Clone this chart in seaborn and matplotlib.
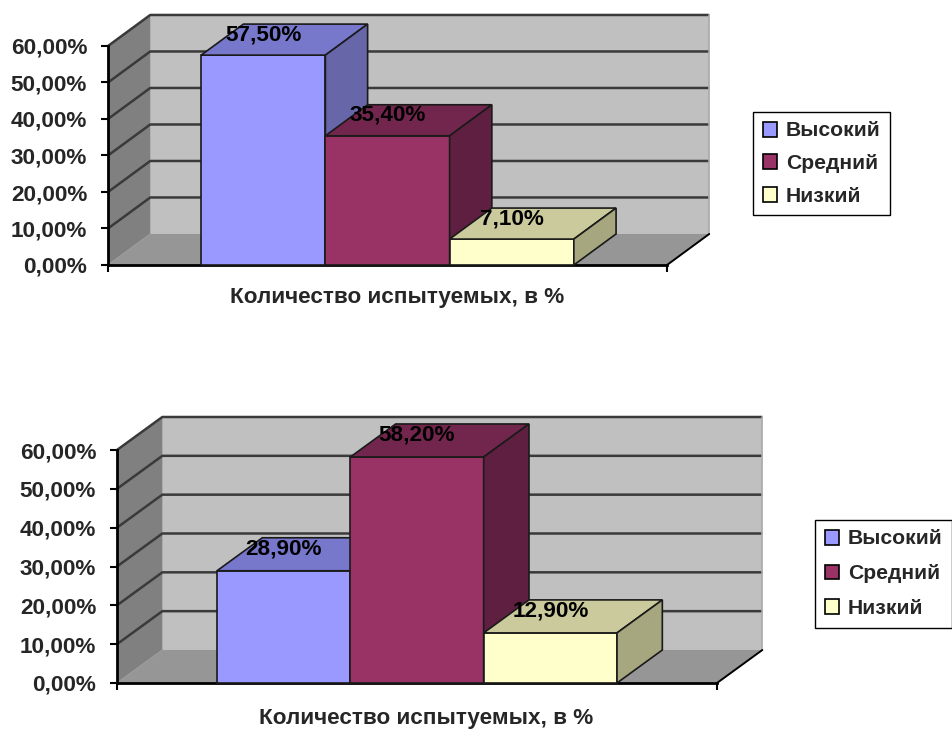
import matplotlib
matplotlib.use("Agg")
import matplotlib.pyplot as plt
from matplotlib.patches import Polygon, Patch
import seaborn as sns
import pandas as pd

# ---- data ----
categories = ["Высокий", "Средний", "Низкий"]
values_top = [57.5, 35.4, 7.1]
values_bottom = [28.9, 58.2, 12.9]
yticks = [0, 10, 20, 30, 40, 50, 60]
axis_title = "Количество испытуемых, в %"

front_colors = ["#9999FF", "#993366", "#FFFFCC"]
top_colors = ["#7777CC", "#73264D", "#CACA9C"]
side_colors = ["#6666A8", "#5E1F40", "#A6A67F"]

sns.set_style("white")
plt.rcParams["font.family"] = ["Liberation Sans", "DejaVu Sans"]
plt.rcParams["font.weight"] = "bold"

W, H = 952, 729
fig = plt.figure(figsize=(W / 100, H / 100), dpi=100)

X0, X1 = -1.25, 3.25      # category-axis extent
DX, DY = 0.34, 8.5        # 3-D depth offset (x units, % units)
YMAX = 60
FS = 16.2                 # main text size
FS_LEG = 15.2             # legend text size


def fmt(v):
    return f"{v:.2f}".replace(".", ",") + "%"


def make_panel(vals, px_x0, px_x1, px_y0, px_y60, xlim, ylim, legend_xy, title_xy, leg_spacing):
    ppx = (px_x1 - px_x0) / (X1 - X0)
    ppy = (px_y0 - px_y60) / YMAX
    left = px_x0 + (xlim[0] - X0) * ppx
    right = px_x0 + (xlim[1] - X0) * ppx
    bottom = px_y0 - ylim[0] * ppy
    top = px_y0 - ylim[1] * ppy
    ax = fig.add_axes([left / W, 1 - bottom / H, (right - left) / W, (bottom - top) / H])
    ax.set_facecolor("none")

    # walls
    ax.add_patch(Polygon([(X0 + DX, DY), (X1 + DX, DY), (X1 + DX, YMAX + DY), (X0 + DX, YMAX + DY)],
                         closed=True, facecolor="#C0C0C0", edgecolor="none", zorder=0.5))
    ax.add_patch(Polygon([(X0, 0), (X0 + DX, DY), (X0 + DX, YMAX + DY), (X0, YMAX)],
                         closed=True, facecolor="#808080", edgecolor="none", zorder=0.6))
    ax.add_patch(Polygon([(X0, 0), (X1, 0), (X1 + DX, DY), (X0 + DX, DY)],
                         closed=True, facecolor="#969696", edgecolor="none", zorder=0.6))
    # gridlines on back and side walls
    for t in yticks[1:]:
        ax.plot([X0, X0 + DX, X1 + DX], [t, t + DY, t + DY], color="#3a3a3a", lw=1.8,
                zorder=0.8, solid_capstyle="butt")
    ax.plot([X0, X0 + DX], [0, DY], color="#9a9a9a", lw=1.0, zorder=0.8)
    ax.plot([X1 + DX, X1 + DX], [DY, YMAX + DY], color="#a8a8a8", lw=1.2, zorder=0.8)
    ax.plot([X1, X1 + DX], [0, DY], color="black", lw=1.4, zorder=0.9)

    df = pd.DataFrame({"cat": categories, "val": vals})
    sns.barplot(data=df, x="cat", y="val", hue="cat", order=categories, hue_order=categories,
                palette=front_colors, width=1.0, edgecolor="#1a1a1a", linewidth=1.2,
                legend=False, ax=ax, saturation=1)

    bars = [b for c in ax.containers for b in c]
    for i, b in enumerate(bars):
        x, w, h = b.get_x(), b.get_width(), b.get_height()
        z = 3 + i
        b.set_zorder(z)
        ax.add_patch(Polygon([(x, h), (x + w, h), (x + w + DX, h + DY), (x + DX, h + DY)],
                             closed=True, facecolor=top_colors[i], edgecolor="#1a1a1a", lw=1.2, zorder=z))
        ax.add_patch(Polygon([(x + w, 0), (x + w + DX, DY), (x + w + DX, h + DY), (x + w, h)],
                             closed=True, facecolor=side_colors[i], edgecolor="#1a1a1a", lw=1.2, zorder=z))
        ax.text(x + w / 2, h + 5.6, fmt(h), ha="center", va="center", fontsize=FS,
                fontweight="bold", color="black", zorder=20)

    ax.set_xlim(*xlim)
    ax.set_ylim(*ylim)
    for s in ["top", "right"]:
        ax.spines[s].set_visible(False)
    ax.spines["left"].set_position(("data", X0))
    ax.spines["left"].set_bounds(0, YMAX)
    ax.spines["bottom"].set_position(("data", 0))
    ax.spines["bottom"].set_bounds(X0, X1)
    for s in ["left", "bottom"]:
        ax.spines[s].set_color("black")
        ax.spines[s].set_linewidth(2.0)
        ax.spines[s].set_zorder(2.5)
    ax.set_yticks(yticks)
    ax.set_yticklabels([fmt(t) for t in yticks], fontsize=FS, fontweight="bold")
    ax.set_xticks([X0, X1])
    ax.set_xticklabels(["", ""])
    ax.tick_params(axis="both", direction="out", length=5, width=1.5, color="black", pad=10,
                   left=True, bottom=True)
    ax.set_xlabel("")
    ax.set_ylabel("")
    ax.text(title_xy[0], title_xy[1], axis_title, ha="center", va="center", fontsize=FS,
            fontweight="bold", clip_on=False)

    handles = [Patch(facecolor=c, edgecolor="black", lw=1.2) for c in front_colors]
    fig.legend(handles, categories, loc="upper left",
               bbox_to_anchor=(legend_xy[0] / W, 1 - legend_xy[1] / H),
               frameon=True, fancybox=False, framealpha=1, edgecolor="black",
               prop={"size": FS_LEG, "weight": "bold"}, handlelength=0.7, handleheight=0.7,
               handletextpad=0.4, labelspacing=leg_spacing, borderpad=0.45, borderaxespad=0)
    return ax


make_panel(values_top, 108, 667, 265, 46, xlim=(-1.6, 3.95), ylim=(-4, 72),
           legend_xy=(753, 112), title_xy=(1.08, -8.8), leg_spacing=0.64)
make_panel(values_bottom, 117, 717, 683, 450, xlim=(-1.6, 3.95), ylim=(-4, 72),
           legend_xy=(815, 520), title_xy=(1.07, -9.2), leg_spacing=0.75)

fig.savefig("out.png", dpi=100, facecolor="white")
